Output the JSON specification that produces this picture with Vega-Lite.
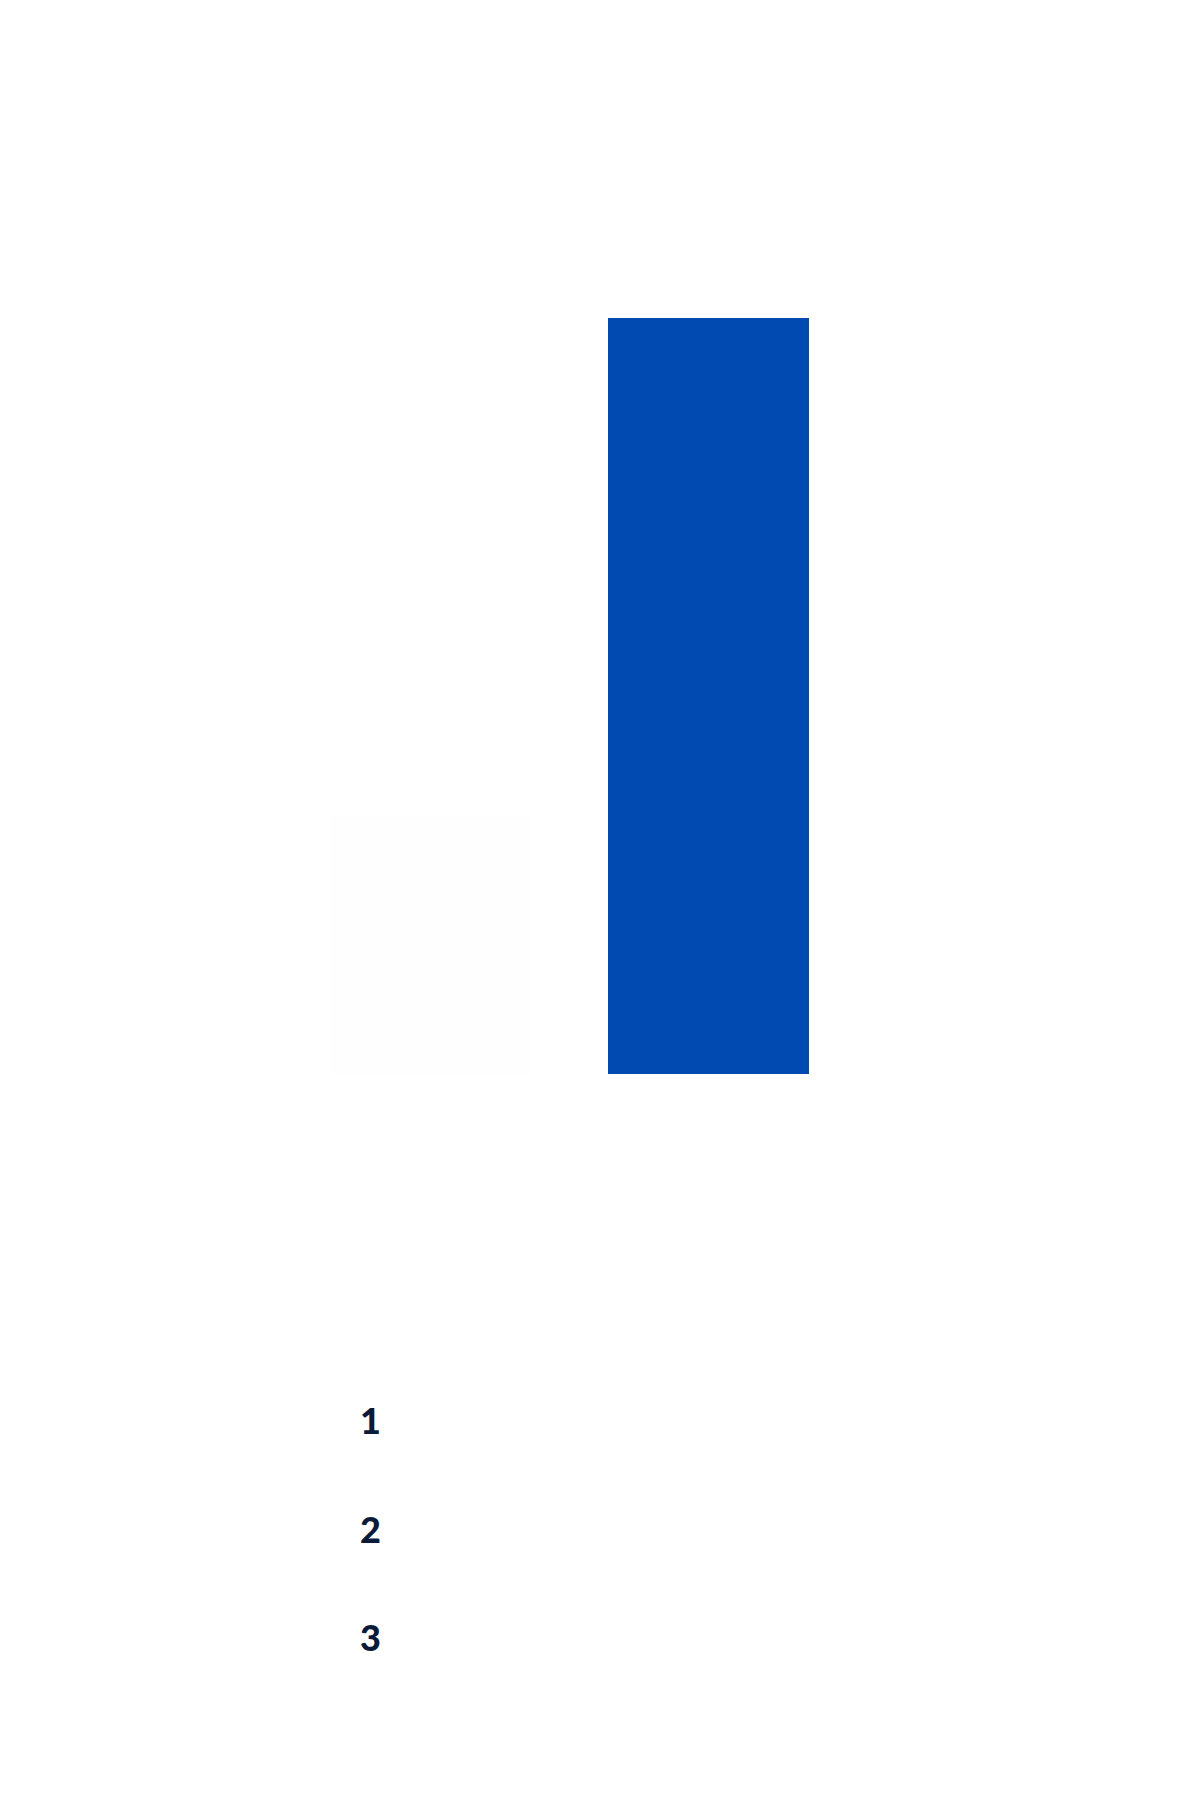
{
  "$schema": "https://vega.github.io/schema/vega-lite/v6.json",
  "autosize": "none",
  "padding": {"top": 0, "left": 52, "right": 0, "bottom": 0},
  "background": "#ffffff",
  "width": 1035,
  "height": 1817,
  "config": {
    "view": {"stroke": null}
  },
  "resolve": {"scale": {"y": "independent"}},
  "layer": [
    {
      "data": {
        "values": [
          {"category": "A", "value": 34.3},
          {"category": "B", "value": 100}
        ]
      },
      "mark": {"type": "bar"},
      "encoding": {
        "x": {
          "field": "category",
          "type": "nominal",
          "scale": {"domain": ["A", "B"], "paddingInner": 0.277, "paddingOuter": 1},
          "axis": null
        },
        "y": {
          "field": "value",
          "type": "quantitative",
          "scale": {"domain": [-98.28, 142.06], "nice": false, "zero": false},
          "axis": null
        },
        "color": {
          "field": "category",
          "type": "nominal",
          "scale": {"domain": ["A", "B"], "range": ["#fefefe", "#004ab1"]},
          "legend": null
        }
      }
    },
    {
      "data": {
        "values": [
          {"rank": 1, "slot": "A"},
          {"rank": 2, "slot": "A"},
          {"rank": 3, "slot": "A"}
        ]
      },
      "mark": {
        "type": "text",
        "font": "Lato",
        "fontWeight": 900,
        "fontSize": 36,
        "align": "center",
        "baseline": "alphabetic",
        "dx": -60,
        "color": "#0a1a38"
      },
      "encoding": {
        "x": {
          "field": "slot",
          "type": "nominal",
          "axis": null
        },
        "y": {
          "field": "rank",
          "type": "quantitative",
          "scale": {"domain": [-12.217, 4.53], "reverse": true, "nice": false, "zero": false},
          "axis": null
        },
        "text": {"field": "rank", "type": "quantitative"}
      }
    }
  ]
}
